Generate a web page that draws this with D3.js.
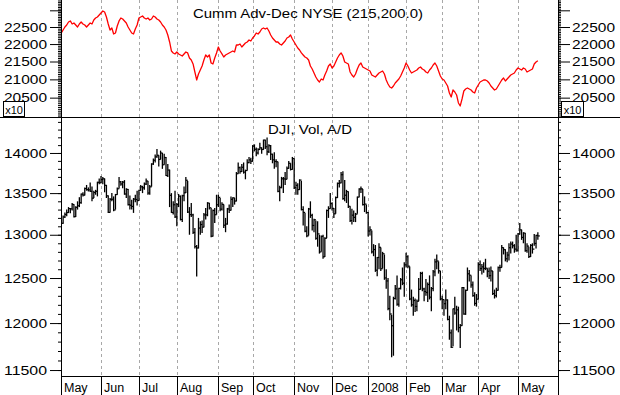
<!DOCTYPE html>
<html>
<head>
<meta charset="utf-8">
<script src="https://cdn.jsdelivr.net/npm/d3@7"></script>
<style>
  body { margin: 0; background: #fff; }
  svg { display: block; }
</style>
</head>
<body>
<div id="chart"></div>
<script>
// month labels and the trading-day index where each month starts
const monthLabels = ["May", "Jun", "Jul", "Aug", "Sep", "Oct", "Nov", "Dec", "2008", "Feb", "Mar", "Apr", "May"];
const monthStarts = [0, 22, 43, 64, 87, 106, 129, 150, 170, 191, 211, 231, 253];

// Cumm Adv-Dec NYSE (x10), one value per trading day
const advDec = [
  22323,22411,22500,22559,22649,22680,22590,22620,22559,22500,
  22590,22649,22590,22559,22500,22559,22620,22590,22708,22768,
  22798,22858,22919,22980,22950,22798,22590,22411,22470,22294,
  22323,22530,22680,22768,22738,22680,22620,22500,22411,22323,
  22294,22440,22559,22768,22798,22828,22768,22738,22768,22708,
  22738,22828,22798,22738,22708,22649,22559,22500,22411,22265,
  22060,21800,21744,21715,21772,21715,21686,21657,21715,21772,
  21744,21600,21543,21430,21205,20983,21149,21261,21374,21543,
  21686,21629,21686,21458,21430,21600,21744,21915,21800,21715,
  21629,21686,21715,21744,21772,21800,21772,21973,21973,22002,
  21915,21973,22031,22060,22118,22089,22176,22236,22323,22294,
  22353,22440,22470,22440,22470,22382,22265,22176,22118,22060,
  22060,22002,21973,22031,22089,22176,22206,22265,22147,22060,
  21973,21887,21829,21744,21686,21629,21600,21543,21374,21289,
  21177,21066,20983,20928,21010,20983,21121,21233,21374,21430,
  21317,21374,21486,21600,21686,21744,21657,21486,21458,21430,
  21205,21121,21066,21149,21289,21402,21458,21346,21317,21289,
  21261,21233,21121,21093,21066,21121,21177,21205,21233,21149,
  20983,20873,20790,20762,20817,20900,20955,21010,21093,21205,
  21317,21458,21374,21261,21177,21205,21233,21261,21317,21346,
  21289,21261,21205,21177,21261,21317,21402,21458,21374,21233,
  21093,21010,20983,20900,20817,20626,20518,20708,20653,20572,
  20357,20277,20464,20680,20735,20762,20735,20708,20653,20626,
  20762,20845,20928,20955,20983,20983,20955,20900,20817,20762,
  20708,20735,20817,20900,20983,21038,20955,21010,21066,21121,
  21149,21177,21261,21317,21289,21261,21317,21289,21205,21233,
  21261,21289,21430,21486,21520
];

// DJI daily bars
const dayHigh = [
  13180,13230,13265,13300,13330,13320,13380,13365,13340,13400,13450,13495,13510,13570,13600,13570,13630,13580,13530,13540,13640,13680,
  13710,13700,13680,13600,13470,13440,13500,13460,13490,13570,13700,13650,13650,13660,13560,13550,13470,13420,13440,13480,13530,
  13540,13600,13590,13630,13680,13650,13600,13870,13930,13980,14050,13970,14030,14000,13990,13950,13860,13790,13500,13400,13530,
  13380,13490,13470,13480,13580,13700,13650,13330,13380,13250,13080,12880,13200,13160,13170,13260,13320,13390,13380,13320,13300,13320,13480,
  13480,13440,13390,13360,13200,13320,13360,13460,13450,13440,13760,13880,13830,13860,13880,13790,13920,13950,13940,
  14100,14110,14070,14060,14130,14070,14170,14170,14198,14110,14100,13990,14010,13920,13890,13590,13700,13700,13760,13830,13900,13870,13950,
  13930,13640,13620,13670,13650,13340,13260,13100,13320,13400,13250,13190,13170,13160,13000,12990,13000,12970,13300,13340,13500,
  13390,13320,13460,13630,13660,13760,13770,13660,13540,13520,13340,13310,13290,13260,13460,13560,13580,13550,13460,13360,
  13270,13100,13050,12890,12880,12740,12900,12850,12800,12770,12600,12500,12300,12090,12290,12420,12530,12390,12500,12620,12680,
  12790,12760,12630,12370,12290,12270,12260,12500,12570,12570,12390,12490,12450,12530,12400,12590,12720,12770,12690,12580,
  12300,12260,12370,12260,12080,11930,12160,12290,12190,12180,11990,12400,12400,12370,12620,12590,12530,12460,12340,12320,
  12680,12700,12660,12680,12720,12610,12620,12630,12580,12370,12390,12630,12650,12880,12850,12830,12800,12900,12920,12920,12890,13000,
  13020,13140,13060,13030,13020,12900,12860,12890,12900,13010,13000,13030
];
const dayLow = [
  13040,13130,13200,13220,13260,13255,13290,13205,13210,13300,13330,13370,13460,13470,13530,13520,13515,13400,13440,13480,13460,13610,
  13620,13610,13510,13440,13260,13265,13400,13280,13300,13480,13555,13590,13560,13480,13440,13350,13300,13300,13260,13390,13350,
  13410,13530,13500,13540,13600,13480,13480,13580,13850,13880,13940,13830,13920,13800,13850,13710,13700,13330,13260,13240,13200,
  13100,13330,13170,13150,13400,13500,13260,13000,13210,13010,12840,12517,12840,13000,13020,13090,13180,13220,13300,12970,12980,13140,13240,
  13330,13280,13290,13080,13030,13120,13260,13290,13330,13360,13400,13740,13740,13760,13740,13670,13780,13870,13860,
  13890,14020,13960,13980,14040,13990,14040,14050,13970,14000,13910,13870,13800,13820,13510,13400,13560,13500,13600,13670,13800,13780,13790,
  13550,13480,13480,13540,13290,13110,13030,12970,12990,13200,13050,13030,12940,12860,12780,12800,12720,12740,12960,13200,13310,
  13290,13200,13250,13440,13570,13620,13420,13400,13380,13320,13150,13120,13150,13150,13250,13450,13500,13350,13270,13250,
  12980,12990,12780,12750,12570,12520,12600,12580,12610,12480,12380,12140,12030,11634,11650,12260,12190,12180,12370,12420,12290,
  12620,12610,12250,12180,12080,12120,12130,12240,12370,12350,12240,12300,12230,12260,12130,12350,12520,12600,12550,12250,
  12150,12080,12150,12030,11820,11731,11750,12090,11920,11900,11731,11970,12090,12090,12360,12460,12390,12290,12190,12180,
  12260,12580,12540,12560,12590,12510,12490,12460,12310,12270,12280,12360,12570,12620,12770,12690,12680,12700,12780,12840,12790,12800,
  12800,13000,12940,12900,12800,12790,12730,12740,12780,12870,12840,12940
];
const dayClose = [
  13136,13211,13241,13264,13312,13309,13362,13215,13327,13346,13383,13487,13476,13556,13542,13539,13522,13438,13507,13522,13633,13627,
  13668,13676,13596,13467,13266,13424,13425,13295,13482,13553,13639,13612,13635,13489,13546,13360,13352,13338,13427,13422,13409,
  13535,13577,13565,13611,13649,13501,13577,13861,13908,13951,13971,13918,14000,13851,13943,13716,13785,13473,13265,13358,13212,
  13362,13463,13181,13468,13504,13658,13270,13239,13236,13028,12861,12845,13079,13121,13090,13236,13236,13379,13322,12983,13289,13238,13358,
  13448,13305,13363,13113,13127,13308,13292,13424,13442,13403,13739,13815,13766,13820,13759,13779,13878,13913,13896,
  14088,14047,14000,14044,14066,14044,14165,14079,14015,14093,13985,13913,13893,13889,13522,13567,13676,13675,13671,13807,13870,13793,13930,
  13567,13595,13543,13660,13300,13266,13042,12987,13307,13231,13110,13177,12958,13010,12799,12981,12743,12958,13289,13311,13372,
  13315,13249,13445,13620,13625,13727,13433,13474,13518,13340,13168,13233,13207,13245,13451,13550,13552,13360,13366,13265,
  13044,13057,12800,12827,12589,12735,12853,12606,12778,12501,12467,12159,12099,11971,12270,12378,12207,12383,12480,12442,12650,
  12743,12635,12265,12200,12248,12182,12240,12373,12552,12377,12348,12337,12427,12285,12381,12570,12684,12694,12582,12266,
  12258,12213,12254,12040,11894,11740,12156,12110,12145,11951,11972,12392,12099,12361,12548,12532,12422,12302,12216,12263,
  12654,12608,12627,12609,12612,12577,12527,12581,12325,12302,12362,12619,12620,12849,12825,12720,12763,12848,12891,12871,12832,12820,
  13010,13058,12969,13020,12814,12867,12745,12876,12832,12898,12992,12986
];

// axis ticks
const advTicks = [20500, 21000, 21500, 22000, 22500, 23000];
const advMinor = d3.range(20000, 23301, 50);
const djiTicks = [11500, 12000, 12500, 13000, 13500, 14000];
const djiMinor = d3.range(11500, 14401, 100);

const W = 620, H = 395;
const left = 61, right = 558;
const topY = 0, split = 117, bottomY = 376;
const font = "'Liberation Sans', Arial, sans-serif";

const svg = d3.select("#chart").append("svg")
    .attr("width", W)
    .attr("height", H);

svg.append("rect").attr("width", W).attr("height", H).attr("fill", "#fff");

// Scales
const x = d3.scaleLinear().domain([0, 275]).range([61.3, 557.7]);
const yTop = d3.scaleLog().domain([19984, 23315]).range([split, topY]);
const yBot = d3.scaleLog().domain([11438, 14464]).range([bottomY, split]);

// month grid lines
svg.append("g")
    .selectAll("line")
    .data(monthStarts.slice(1))
    .enter().append("line")
    .attr("x1", d => Math.round(x(d)) + 0.5)
    .attr("x2", d => Math.round(x(d)) + 0.5)
    .attr("y1", topY)
    .attr("y2", bottomY)
    .attr("stroke", "#a8a8a8")
    .attr("stroke-width", 1)
    .attr("stroke-dasharray", "3,3");

// Top panel: red line
const clipTop = svg.append("clipPath").attr("id", "clipTop")
    .append("rect").attr("x", left).attr("y", topY).attr("width", right - left).attr("height", split - topY);

const advLine = d3.line()
    .x((d, i) => x(i))
    .y(d => yTop(d));

svg.append("path")
    .datum(advDec)
    .attr("clip-path", "url(#clipTop)")
    .attr("d", advLine)
    .attr("fill", "none")
    .attr("stroke", "#ff0000")
    .attr("stroke-width", 1.3)
    .attr("stroke-linejoin", "round");

// Bottom panel: bars
svg.append("clipPath").attr("id", "clipBot")
    .append("rect").attr("x", left).attr("y", split).attr("width", right - left).attr("height", bottomY - split);

const bars = svg.append("g").attr("clip-path", "url(#clipBot)");

bars.selectAll("line.hl")
    .data(dayClose)
    .enter().append("line")
    .attr("class", "hl")
    .attr("x1", (d, i) => x(i))
    .attr("x2", (d, i) => x(i))
    .attr("y1", (d, i) => yBot(dayHigh[i]))
    .attr("y2", (d, i) => yBot(dayLow[i]))
    .attr("stroke", "#000")
    .attr("stroke-width", 1.3);

bars.selectAll("line.cl")
    .data(dayClose)
    .enter().append("line")
    .attr("class", "cl")
    .attr("x1", (d, i) => x(i))
    .attr("x2", (d, i) => x(i) + 2)
    .attr("y1", d => yBot(d))
    .attr("y2", d => yBot(d))
    .attr("stroke", "#000")
    .attr("stroke-width", 1.2);

// Axes
function styleAxis(g, withText) {
    g.select(".domain").remove();
    g.selectAll("line").attr("stroke", "#000");
    if (withText) {
        g.selectAll("text")
            .attr("font-family", font)
            .attr("font-size", "13px")
            .attr("fill", "#000")
            .attr("textLength", 43)
            .attr("lengthAdjust", "spacingAndGlyphs");
    }
}

const fmt = d3.format("d");

// top panel axes
svg.append("g").attr("transform", `translate(${left},0)`)
    .call(d3.axisLeft(yTop).tickValues(advMinor).tickSize(3).tickFormat(""))
    .call(g => styleAxis(g, false));
svg.append("g").attr("transform", `translate(${left},0)`)
    .call(d3.axisLeft(yTop).tickValues(advTicks).tickSize(11).tickPadding(3)
        .tickFormat(d => d < 23000 ? fmt(d) : ""))
    .call(g => styleAxis(g, true));
svg.append("g").attr("transform", `translate(${right},0)`)
    .call(d3.axisRight(yTop).tickValues(advMinor).tickSize(3).tickFormat(""))
    .call(g => styleAxis(g, false));
svg.append("g").attr("transform", `translate(${right},0)`)
    .call(d3.axisRight(yTop).tickValues(advTicks).tickSize(12).tickPadding(2)
        .tickFormat(d => d < 23000 ? fmt(d) : ""))
    .call(g => styleAxis(g, true));

// bottom panel axes
svg.append("g").attr("transform", `translate(${left},0)`)
    .call(d3.axisLeft(yBot).tickValues(djiMinor).tickSize(3).tickFormat(""))
    .call(g => styleAxis(g, false));
svg.append("g").attr("transform", `translate(${left},0)`)
    .call(d3.axisLeft(yBot).tickValues(djiTicks).tickSize(11).tickPadding(3).tickFormat(fmt))
    .call(g => styleAxis(g, true));
svg.append("g").attr("transform", `translate(${right},0)`)
    .call(d3.axisRight(yBot).tickValues(djiMinor).tickSize(3).tickFormat(""))
    .call(g => styleAxis(g, false));
svg.append("g").attr("transform", `translate(${right},0)`)
    .call(d3.axisRight(yBot).tickValues(djiTicks).tickSize(12).tickPadding(2).tickFormat(fmt))
    .call(g => styleAxis(g, true));

// frame lines
svg.append("line").attr("x1", left + 0.5).attr("x2", left + 0.5).attr("y1", 0).attr("y2", H)
    .attr("stroke", "#000").attr("stroke-width", 1);
svg.append("line").attr("x1", right + 0.5).attr("x2", right + 0.5).attr("y1", 0).attr("y2", H)
    .attr("stroke", "#000").attr("stroke-width", 1);
svg.append("line").attr("x1", 0).attr("x2", W).attr("y1", split + 0.5).attr("y2", split + 0.5)
    .attr("stroke", "#000").attr("stroke-width", 1.2);
svg.append("line").attr("x1", left).attr("x2", right + 1).attr("y1", bottomY + 0.5).attr("y2", bottomY + 0.5)
    .attr("stroke", "#000").attr("stroke-width", 1.2);

// x10 boxes
[{ bx: 3, bw: 21 }, { bx: 561, bw: 22 }].forEach(b => {
    svg.append("rect")
        .attr("x", b.bx + 0.5).attr("y", 101.5)
        .attr("width", b.bw).attr("height", 15)
        .attr("fill", "#fff").attr("stroke", "#000").attr("stroke-width", 1);
    svg.append("text")
        .attr("x", b.bx + b.bw / 2 + 0.5).attr("y", 113.5)
        .attr("text-anchor", "middle")
        .attr("font-family", font).attr("font-size", "11px")
        .text("x10");
});

// month labels along the bottom
const monthG = svg.append("g");
monthG.selectAll("line")
    .data(monthStarts)
    .enter().append("line")
    .attr("x1", d => Math.round(x(d)) + 0.5)
    .attr("x2", d => Math.round(x(d)) + 0.5)
    .attr("y1", bottomY)
    .attr("y2", H)
    .attr("stroke", "#000");
monthG.selectAll("text")
    .data(monthStarts)
    .enter().append("text")
    .attr("x", d => Math.round(x(d)) + 3)
    .attr("y", 392)
    .attr("font-family", font)
    .attr("font-size", "12.5px")
    .attr("fill", "#000")
    .text((d, i) => monthLabels[i]);

// panel titles
svg.append("text")
    .attr("x", 308).attr("y", 18)
    .attr("text-anchor", "middle")
    .attr("font-family", font).attr("font-size", "13px")
    .attr("textLength", 230).attr("lengthAdjust", "spacingAndGlyphs")
    .text("Cumm Adv-Dec NYSE (215,200.0)");

svg.append("text")
    .attr("x", 310).attr("y", 134)
    .attr("text-anchor", "middle")
    .attr("font-family", font).attr("font-size", "13px")
    .attr("textLength", 84).attr("lengthAdjust", "spacingAndGlyphs")
    .text("DJI, Vol, A/D");
</script>
</body>
</html>
